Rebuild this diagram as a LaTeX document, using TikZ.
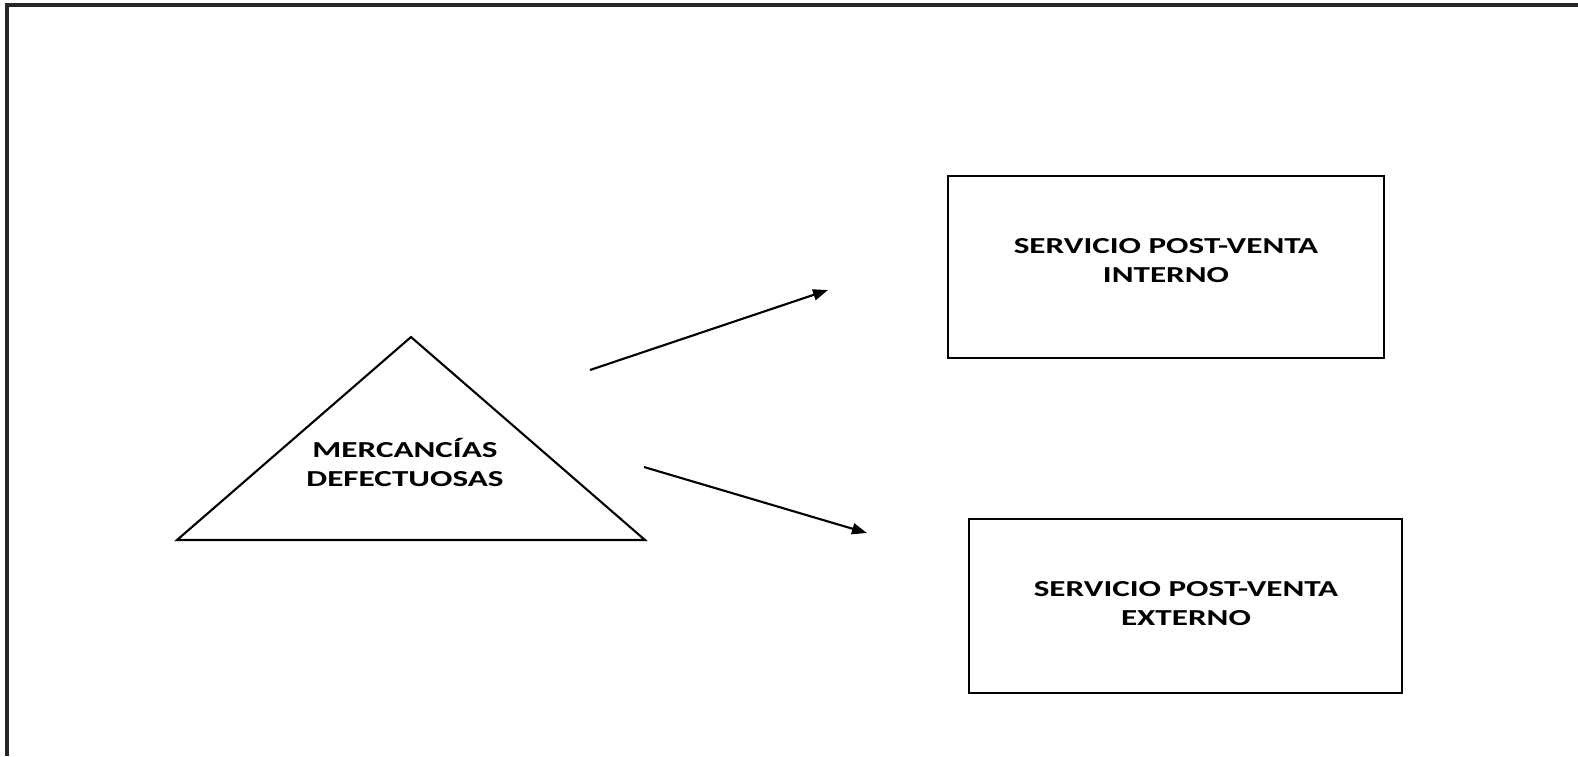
\documentclass[tikz,border=0pt]{standalone}
\usepackage{fontspec}
\setmainfont{Carlito}
\usetikzlibrary{arrows.meta}
\newcommand{\widetext}[1]{\scalebox{1.45}[1]{\fontsize{6.5}{8.2}\selectfont\bfseries\begin{tabular}{@{}c@{}}#1\end{tabular}}}
\tikzset{
  frame/.style={line width=0.9pt, black!85},
  shapeline/.style={line width=0.6pt, black},
  servbox/.style={shapeline, draw, rectangle, inner sep=0pt},
  lbl/.style={inner sep=0pt, align=center},
  conn/.style={shapeline, -{Triangle[length=0.15cm,width=0.11cm]}}
}
\begin{document}
\begin{tikzpicture}[x=0.01cm,y=-0.01cm]
\useasboundingbox (0,0) rectangle (1578,756);
% outer frame (top and left visible)
\draw[frame] (1578,5) -- (7,5) -- (7,756);
% triangle
\coordinate (apex) at (411,337);
\coordinate (bl) at (177,540);
\coordinate (br) at (645,540);
\draw[shapeline, line join=miter] (apex) -- (bl) -- (br) -- cycle;
\node[lbl] (merc) at (405,466) {\widetext{MERCANCÍAS\\DEFECTUOSAS}};
% boxes
\node[servbox, minimum width=4.36cm, minimum height=1.82cm] (int) at (1166,267) {};
\node[lbl] (inttext) at (1166,262) {\widetext{SERVICIO POST-VENTA\\INTERNO}};
\node[servbox, minimum width=4.33cm, minimum height=1.74cm] (ext) at (1185.5,606) {};
\node[lbl] (exttext) at (1186,605) {\widetext{SERVICIO POST-VENTA\\EXTERNO}};
% arrows
\coordinate (a1s) at (590,370);
\coordinate (a1e) at (828,290);
\coordinate (a2s) at (644,467);
\coordinate (a2e) at (867,533);
\draw[conn] (a1s) -- (a1e);
\draw[conn] (a2s) -- (a2e);
\end{tikzpicture}
\end{document}
